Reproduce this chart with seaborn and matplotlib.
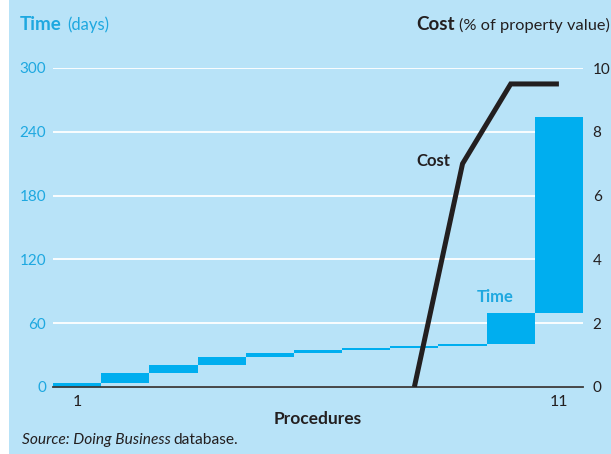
import matplotlib
matplotlib.use('Agg')
import matplotlib.pyplot as plt
import seaborn as sns
import pandas as pd
from matplotlib.patches import Rectangle

# Time per procedure (days), drawn as floating steps
procedures = [str(i) for i in range(1, 12)]
time_start = [0, 4, 13, 21, 28, 32, 35, 37, 39, 40, 70]
time_end = [4, 13, 21, 28, 32, 35, 37, 39, 40, 70, 254]
time_ticks = [0, 60, 120, 180, 240, 300]

# Cumulative cost (% of property value), only nonzero from procedure 8 on
cost_procedures = [8, 9, 10, 11]
cost_values = [0, 7.0, 9.5, 9.5]
cost_ticks = [0, 2, 4, 6, 8, 10]

BG = '#b8e3f8'
BAR = '#00aeef'
BLUE_TXT = '#1ea8e0'
DARK = '#231f20'

sns.set_style('white')
plt.rcParams['font.family'] = ['Lato', 'DejaVu Sans']

df = pd.DataFrame({'proc': procedures,
                   'days': [e - s for s, e in zip(time_start, time_end)],
                   'start': time_start})

W, H = 611, 454
fig = plt.figure(figsize=(W / 100, H / 100), dpi=100, facecolor='white')
fig.patches.append(Rectangle((9 / W, 0), 1, 1, transform=fig.transFigure,
                             facecolor=BG, edgecolor='none', zorder=-10))

ax = fig.add_axes([53 / W, 1 - 387 / H, 530 / W, 319 / H])
ax.set_facecolor('none')

sns.barplot(data=df, x='proc', y='days', bottom=df['start'], width=1,
            color=BAR, saturation=1, errorbar=None, linewidth=0, ax=ax)

ax.set_xlim(-0.5, 10.5)
ax.set_ylim(0, 300)
ax.set_yticks(time_ticks)
ax.set_yticklabels([str(t) for t in time_ticks], color=BLUE_TXT, fontsize=11)
ax.tick_params(axis='y', length=0, pad=5)
ax.grid(axis='y', color='white', linewidth=1.3)
ax.set_axisbelow(True)

ax.set_xticks([i - 0.5 for i in range(12)])
ax.set_xticklabels([])
ax.set_xticks([0, 10], minor=True)
ax.set_xticklabels(['1', '11'], minor=True, fontsize=11.5, color=DARK)
ax.tick_params(axis='x', which='major', length=5, width=1.2, color='#3a3a3a', direction='out')
ax.tick_params(axis='x', which='minor', length=0, pad=6)
ax.set_xlabel('Procedures', fontsize=12.5, fontweight='bold', color=DARK, labelpad=1)
ax.set_ylabel('')
for s in ['top', 'left', 'right']:
    ax.spines[s].set_visible(False)
ax.spines['bottom'].set_color('#3a3a3a')
ax.spines['bottom'].set_linewidth(1.3)

ax2 = ax.twinx()
ax2.set_facecolor('none')
sns.lineplot(x=[p - 1 for p in cost_procedures], y=cost_values, ax=ax2,
             color=DARK, linewidth=3.6, solid_joinstyle='miter', solid_capstyle='butt')
ax2.set_ylim(0, 10)
ax2.set_yticks(cost_ticks)
ax2.set_yticklabels([str(t) for t in cost_ticks], color=DARK, fontsize=11)
ax2.tick_params(axis='y', length=0, pad=7)
for s in ax2.spines.values():
    s.set_visible(False)
ax2.set_xlim(-0.5, 10.5)

ax2.text(7.75, 7.08, 'Cost', ha='right', va='center', fontsize=12,
         fontweight='bold', color=DARK)
ax.text(8.67, 85, 'Time', ha='center', va='center', fontsize=12,
        fontweight='bold', color=BLUE_TXT)

# header texts, mixed weights
fig.canvas.draw()
r = fig.canvas.get_renderer()
t1 = fig.text(20 / W, 1 - 25 / H, 'Time', fontsize=13.5, fontweight='bold',
              color=BLUE_TXT, va='center', ha='left')
bb = t1.get_window_extent(r)
fig.text((bb.x1 + 5) / W, 1 - 25 / H, '(days)', fontsize=12,
         color=BLUE_TXT, va='center', ha='left')

t2 = fig.text(610 / W, 1 - 25 / H, '(% of property value)', fontsize=11.8,
              color=DARK, va='center', ha='right')
bb = t2.get_window_extent(r)
fig.text((bb.x0 - 4) / W, 1 - 25 / H, 'Cost', fontsize=13.5, fontweight='bold',
         color=DARK, va='center', ha='right')

s1 = fig.text(22 / W, 1 - 440 / H, 'Source: Doing Business', fontsize=11.2,
              style='italic', color=DARK, va='center', ha='left')
bb = s1.get_window_extent(r)
fig.text((bb.x1 + 3) / W, 1 - 440 / H, 'database.', fontsize=11.2,
         color=DARK, va='center', ha='left')

fig.savefig('out.png', dpi=100)
